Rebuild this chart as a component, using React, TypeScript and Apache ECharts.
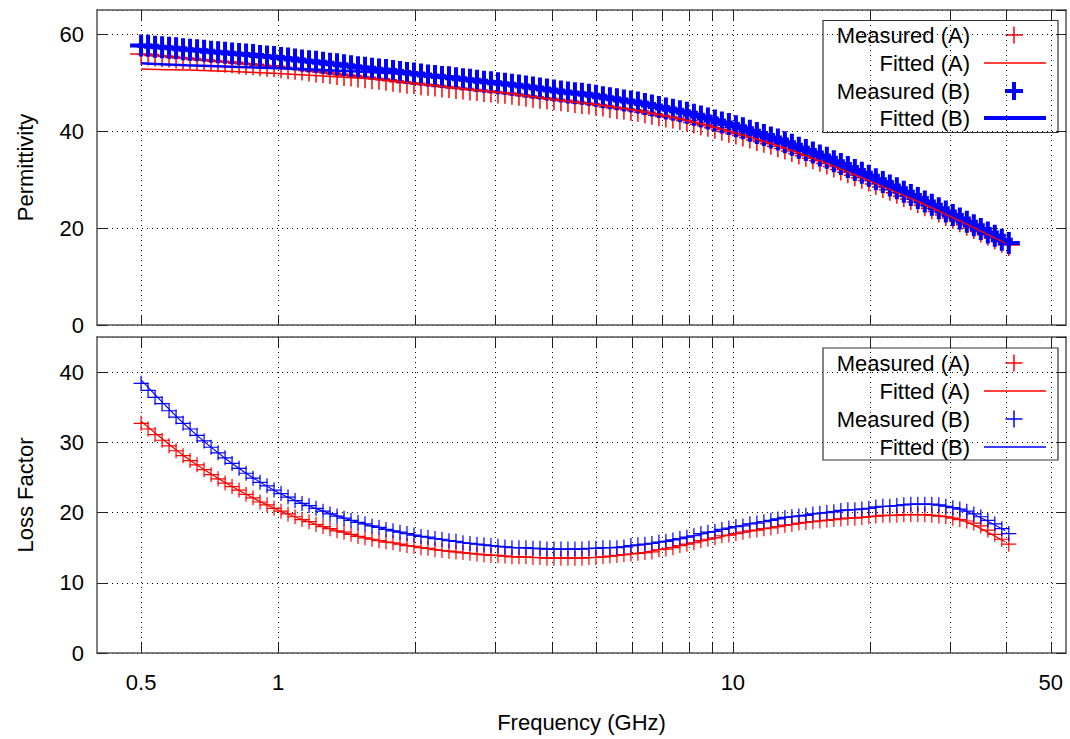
import React, { useEffect, useRef } from "react";
import * as echarts from "echarts";

// Frequencies (GHz) of the measured points
const FREQ = [
  0.5, 0.518, 0.5367, 0.5561, 0.5761, 0.5969, 0.6184, 0.6407, 0.6638, 0.6878,
  0.7126, 0.7383, 0.7649, 0.7925, 0.8211, 0.8507, 0.8813, 0.9131, 0.946, 0.9801,
  1.0155, 1.0521, 1.09, 1.1293, 1.1701, 1.2123, 1.256, 1.3013, 1.3482, 1.3968,
  1.4472, 1.4993, 1.5534, 1.6094, 1.6674, 1.7276, 1.7899, 1.8544, 1.9213, 1.9906,
  2.0623, 2.1367, 2.2138, 2.2936, 2.3763, 2.462, 2.5507, 2.6427, 2.738, 2.8367,
  2.939, 3.045, 3.1548, 3.2686, 3.3864, 3.5085, 3.635, 3.7661, 3.9019, 4.0426,
  4.1884, 4.3394, 4.4958, 4.6579, 4.8259, 5.0, 5.1803, 5.367, 5.5605, 5.761,
  5.969, 6.184, 6.407, 6.638, 6.8775, 7.1255, 7.3825, 7.6485, 7.9245, 8.2105,
  8.5065, 8.813, 9.131, 9.46, 9.801, 10.1545, 10.521, 10.9, 11.293, 11.7005,
  12.1225, 12.5595, 13.0125, 13.4815, 13.9675, 14.4715, 14.993, 15.534, 16.094, 16.674,
  17.2755, 17.8985, 18.544, 19.2125, 19.9055, 20.623, 21.367, 22.1375, 22.9355, 23.7625,
  24.6195, 25.507, 26.427, 27.3795, 28.367, 29.39, 30.4495, 31.548, 32.6855, 33.864,
  35.085, 36.35, 37.6605, 39.0185, 40.4255,
];

const PERM_MEAS_A = [
  55.9, 55.8, 55.6, 55.5, 55.4, 55.2, 55.1, 55.0, 54.8, 54.7,
  54.6, 54.4, 54.3, 54.2, 54.0, 53.9, 53.8, 53.6, 53.5, 53.4,
  53.2, 53.0, 52.9, 52.7, 52.5, 52.3, 52.2, 52.0, 51.8, 51.6,
  51.5, 51.3, 51.1, 50.9, 50.8, 50.6, 50.4, 50.2, 50.0, 49.9,
  49.7, 49.6, 49.4, 49.2, 49.1, 48.9, 48.8, 48.6, 48.5, 48.3,
  48.2, 48.0, 47.9, 47.7, 47.5, 47.3, 47.1, 46.9, 46.8, 46.6,
  46.4, 46.2, 46.0, 45.8, 45.7, 45.5, 45.3, 45.0, 44.8, 44.6,
  44.4, 44.2, 43.9, 43.6, 43.3, 43.0, 42.8, 42.5, 42.2, 41.8,
  41.4, 41.1, 40.7, 40.3, 39.9, 39.5, 39.1, 38.7, 38.2, 37.8,
  37.4, 36.9, 36.4, 35.9, 35.4, 34.9, 34.4, 33.9, 33.3, 32.7,
  32.1, 31.5, 30.9, 30.4, 29.8, 29.1, 28.5, 27.9, 27.3, 26.6,
  26.0, 25.4, 24.7, 24.1, 23.4, 22.7, 22.1, 21.4, 20.7, 20.0,
  19.3, 18.6, 17.9, 17.2, 16.5,
];

const PERM_MEAS_B = [
  57.7, 57.6, 57.4, 57.3, 57.2, 57.1, 56.9, 56.8, 56.7, 56.6,
  56.4, 56.3, 56.2, 56.0, 55.9, 55.8, 55.7, 55.5, 55.4, 55.3,
  55.1, 55.0, 54.8, 54.6, 54.4, 54.3, 54.1, 53.9, 53.8, 53.6,
  53.4, 53.2, 53.1, 52.9, 52.7, 52.6, 52.4, 52.2, 52.0, 51.9,
  51.7, 51.5, 51.4, 51.2, 51.1, 50.9, 50.7, 50.6, 50.4, 50.2,
  50.1, 49.9, 49.8, 49.6, 49.4, 49.2, 49.0, 48.8, 48.6, 48.4,
  48.2, 48.0, 47.8, 47.7, 47.5, 47.3, 47.0, 46.8, 46.6, 46.3,
  46.1, 45.9, 45.6, 45.3, 45.0, 44.7, 44.4, 44.1, 43.8, 43.4,
  43.0, 42.6, 42.2, 41.8, 41.5, 41.0, 40.6, 40.1, 39.6, 39.2,
  38.7, 38.3, 37.7, 37.2, 36.6, 36.1, 35.6, 35.0, 34.5, 33.8,
  33.2, 32.6, 32.0, 31.4, 30.8, 30.1, 29.5, 28.8, 28.2, 27.5,
  26.8, 26.2, 25.5, 24.8, 24.1, 23.4, 22.7, 22.0, 21.3, 20.6,
  19.8, 19.1, 18.4, 17.6, 16.9,
];

const LOSS_MEAS_A = [
  32.7, 31.9, 31.1, 30.3, 29.5, 28.8, 28.1, 27.4, 26.8, 26.1,
  25.4, 24.8, 24.2, 23.7, 23.2, 22.6, 22.1, 21.5, 21.1, 20.6,
  20.2, 19.8, 19.4, 19.0, 18.7, 18.3, 18.0, 17.7, 17.4, 17.2,
  16.9, 16.6, 16.4, 16.2, 16.0, 15.8, 15.7, 15.5, 15.3, 15.2,
  15.0, 14.9, 14.7, 14.6, 14.5, 14.4, 14.3, 14.2, 14.1, 14.0,
  13.9, 13.9, 13.8, 13.7, 13.7, 13.7, 13.6, 13.6, 13.5, 13.5,
  13.5, 13.5, 13.5, 13.5, 13.6, 13.6, 13.7, 13.8, 13.9, 14.0,
  14.1, 14.2, 14.3, 14.4, 14.7, 14.8, 15.0, 15.3, 15.5, 15.7,
  16.0, 16.2, 16.4, 16.7, 16.8, 17.0, 17.2, 17.4, 17.5, 17.7,
  17.8, 18.0, 18.2, 18.3, 18.5, 18.6, 18.7, 18.8, 18.9, 19.0,
  19.1, 19.2, 19.2, 19.3, 19.4, 19.5, 19.6, 19.6, 19.6, 19.7,
  19.7, 19.7, 19.7, 19.6, 19.5, 19.4, 19.2, 19.0, 18.8, 18.5,
  18.1, 17.5, 16.9, 16.2, 15.5,
];

const LOSS_MEAS_B = [
  38.4, 37.4, 36.4, 35.5, 34.5, 33.6, 32.7, 31.9, 31.0, 30.2,
  29.3, 28.5, 27.8, 27.0, 26.3, 25.6, 24.9, 24.3, 23.8, 23.2,
  22.7, 22.2, 21.7, 21.3, 21.0, 20.6, 20.2, 19.8, 19.5, 19.2,
  18.9, 18.6, 18.4, 18.1, 17.9, 17.6, 17.4, 17.2, 17.0, 16.8,
  16.6, 16.5, 16.3, 16.2, 16.0, 15.9, 15.7, 15.6, 15.5, 15.4,
  15.3, 15.2, 15.1, 15.0, 15.0, 15.0, 14.9, 14.9, 14.8, 14.8,
  14.8, 14.8, 14.8, 14.8, 14.9, 14.9, 15.0, 15.0, 15.0, 15.1,
  15.3, 15.4, 15.5, 15.6, 15.8, 15.9, 16.1, 16.3, 16.5, 16.7,
  17.0, 17.2, 17.3, 17.6, 17.8, 18.0, 18.1, 18.4, 18.5, 18.7,
  18.9, 19.1, 19.3, 19.4, 19.5, 19.6, 19.8, 19.9, 20.0, 20.1,
  20.3, 20.4, 20.4, 20.5, 20.6, 20.8, 20.9, 20.9, 21.0, 21.1,
  21.2, 21.2, 21.2, 21.2, 21.1, 20.9, 20.7, 20.5, 20.2, 19.8,
  19.4, 18.9, 18.4, 17.7, 17.0,
];

// Fitted curves
const FIT_FREQ = [
  0.5, 0.6295, 0.7925, 0.9977, 1.256, 1.5811, 1.9905, 2.506, 3.1548, 3.9716,
  5.0, 6.2945, 7.9245, 9.9765, 12.5595, 15.8115, 19.9055, 25.0595, 31.548, 39.7165,
];
const PERM_FIT_A = [
  52.8, 52.6, 52.3, 51.9, 51.4, 50.8, 49.9, 48.8, 47.9, 46.6,
  45.5, 44.1, 42.2, 39.8, 37.0, 33.6, 29.8, 25.8, 21.5, 16.9,
];
const PERM_FIT_B = [
  54.0, 53.6, 53.3, 53.0, 52.6, 52.2, 51.7, 50.8, 49.8, 48.5,
  47.3, 45.8, 43.8, 41.3, 38.3, 34.8, 30.8, 26.6, 22.1, 17.3,
];
const LOSS_FIT_A = [
  33.0, 27.8, 23.7, 20.4, 18.0, 16.3, 15.2, 14.3, 13.8, 13.5,
  13.6, 14.3, 15.5, 16.9, 18.0, 18.9, 19.4, 19.7, 19.0, 15.8,
];
const LOSS_FIT_B = [
  38.9, 32.3, 27.0, 22.9, 20.2, 18.2, 16.8, 15.8, 15.1, 14.8,
  14.9, 15.4, 16.5, 17.9, 19.1, 20.0, 20.6, 21.2, 20.5, 17.4,
];

const X_TICKS = [0.5, 1, 2, 3, 4, 5, 6, 7, 8, 9, 10, 20, 30, 40, 50];
const X_LABELS = [0.5, 1, 10, 50];
const SERIES_NAMES = ["Measured (A)", "Fitted (A)", "Measured (B)", "Fitted (B)"];

const FONT = '"Liberation Sans", Arial, sans-serif';
const RED = "#ff0000";
const BLUE = "#0000ff";
const PLUS = "path://M10,0L10,20M0,10L20,10";

const pair = (xs: number[], ys: number[]) => xs.map((x, i) => [x, ys[i]]);

function xAxis(gridIndex: number, position: string, labels: boolean, split: boolean, name?: string) {
  return {
    type: "log",
    logBase: 10,
    gridIndex,
    position,
    min: 0.4,
    max: 54,
    name: name || "",
    nameLocation: "middle",
    nameGap: 58,
    nameTextStyle: { fontSize: 22, fontFamily: FONT, color: "#000" },
    axisLine: { show: true, onZero: false, lineStyle: { color: "#555", width: 1.5 } },
    axisTick: { show: true, inside: true, length: 10, customValues: X_TICKS, lineStyle: { color: "#222", width: 1 } },
    axisLabel: {
      show: labels,
      customValues: X_LABELS,
      margin: 18,
      fontSize: 22,
      fontFamily: FONT,
      color: "#000",
      formatter: (v: number) => String(Math.round(v * 10) / 10),
    },
    splitLine: { show: split, lineStyle: { type: [1, 4], color: "#000", width: 1 } },
    minorTick: { show: false },
    minorSplitLine: { show: false },
  };
}

function yAxis(gridIndex: number, position: string, max: number, interval: number, main: boolean, name?: string) {
  return {
    type: "value",
    gridIndex,
    position,
    min: 0,
    max,
    interval,
    name: name || "",
    nameLocation: "middle",
    nameGap: 61,
    nameTextStyle: { fontSize: 22, fontFamily: FONT, color: "#000" },
    axisLine: { show: true, onZero: false, lineStyle: { color: "#555", width: 1.5 } },
    axisTick: { show: true, inside: true, length: 10, lineStyle: { color: "#222", width: 1 } },
    axisLabel: { show: main, margin: 13, fontSize: 22, fontFamily: FONT, color: "#000", showMaxLabel: false },
    splitLine: { show: main, lineStyle: { type: [1, 4], color: "#000", width: 1 } },
  };
}

function scatter(name: string, xi: number, yi: number, ys: number[], color: string, size: number, width: number) {
  return {
    type: "scatter",
    name,
    xAxisIndex: xi,
    yAxisIndex: yi,
    data: pair(FREQ, ys),
    symbol: PLUS,
    symbolSize: size,
    silent: true,
    itemStyle: { color, borderColor: color, borderWidth: width, opacity: 1 },
  };
}

function line(name: string, xi: number, yi: number, ys: number[], color: string, width: number) {
  return {
    type: "line",
    name,
    xAxisIndex: xi,
    yAxisIndex: yi,
    data: pair(FIT_FREQ, ys),
    showSymbol: false,
    symbol: "none",
    smooth: 0.3,
    silent: true,
    lineStyle: { color, width },
    itemStyle: { color },
  };
}

function legendBox(top: number, rows: number[], bigB: boolean) {
  const children: any[] = [
    { type: "rect", shape: { x: 823, y: top, width: 235, height: 112 }, style: { fill: "#fff", stroke: "#333", lineWidth: 1.2 } },
  ];
  SERIES_NAMES.forEach((n, i) => {
    children.push({
      type: "text",
      style: { text: n, x: 970, y: rows[i], align: "right", verticalAlign: "middle", fontSize: 22, fontFamily: FONT, fill: "#000" },
    });
  });
  const plus = (cy: number, color: string, w: number, h: number) => [
    { type: "line", shape: { x1: 1014 - h, y1: cy, x2: 1014 + h, y2: cy }, style: { stroke: color, lineWidth: w } },
    { type: "line", shape: { x1: 1014, y1: cy - h, x2: 1014, y2: cy + h }, style: { stroke: color, lineWidth: w } },
  ];
  const seg = (cy: number, color: string, w: number) => ({
    type: "line",
    shape: { x1: 984, y1: cy, x2: 1046, y2: cy },
    style: { stroke: color, lineWidth: w },
  });
  children.push(...plus(rows[0], RED, 1.5, 8.5));
  children.push(seg(rows[1], RED, 1.5));
  children.push(...plus(rows[2], BLUE, bigB ? 4 : 1.5, bigB ? 9 : 8.5));
  children.push(seg(rows[3], BLUE, bigB ? 4 : 1.5));
  return { type: "group", children, z: 100 };
}

export default function App() {
  const ref = useRef<HTMLDivElement>(null);
  useEffect(() => {
    document.body.style.margin = "0";
    if (!ref.current) return;
    const chart = echarts.init(ref.current, null, { renderer: "svg" });
    chart.setOption({
      animation: false,
      backgroundColor: "#fff",
      textStyle: { fontFamily: FONT },
      grid: [
        { left: 97, right: 4, top: 10, height: 315 },
        { left: 97, right: 4, top: 337, height: 316 },
      ],
      xAxis: [
        xAxis(0, "bottom", false, true),
        xAxis(0, "top", false, false),
        xAxis(1, "bottom", true, true, "Frequency (GHz)"),
        xAxis(1, "top", false, false),
      ],
      yAxis: [
        yAxis(0, "left", 65, 20, true, "Permittivity"),
        yAxis(0, "right", 65, 20, false),
        yAxis(1, "left", 45, 10, true, "Loss Factor"),
        yAxis(1, "right", 45, 10, false),
      ],
      series: [
        scatter(SERIES_NAMES[0], 0, 0, PERM_MEAS_A, RED, 22, 1.5),
        line(SERIES_NAMES[1], 0, 0, PERM_FIT_A, RED, 1.5),
        scatter(SERIES_NAMES[2], 0, 0, PERM_MEAS_B, BLUE, 22, 4),
        line(SERIES_NAMES[3], 0, 0, PERM_FIT_B, BLUE, 2.5),
        scatter(SERIES_NAMES[0], 2, 2, LOSS_MEAS_A, RED, 15, 1.2),
        line(SERIES_NAMES[1], 2, 2, LOSS_FIT_A, RED, 1.2),
        scatter(SERIES_NAMES[2], 2, 2, LOSS_MEAS_B, BLUE, 15, 1.2),
        line(SERIES_NAMES[3], 2, 2, LOSS_FIT_B, BLUE, 1.2),
      ],
      graphic: [
        legendBox(20.5, [35, 63, 91, 118], true),
        legendBox(348, [363, 391, 419, 447], false),
      ],
    });
    return () => chart.dispose();
  }, []);
  return <div ref={ref} style={{ width: 1070, height: 739 }} />;
}
